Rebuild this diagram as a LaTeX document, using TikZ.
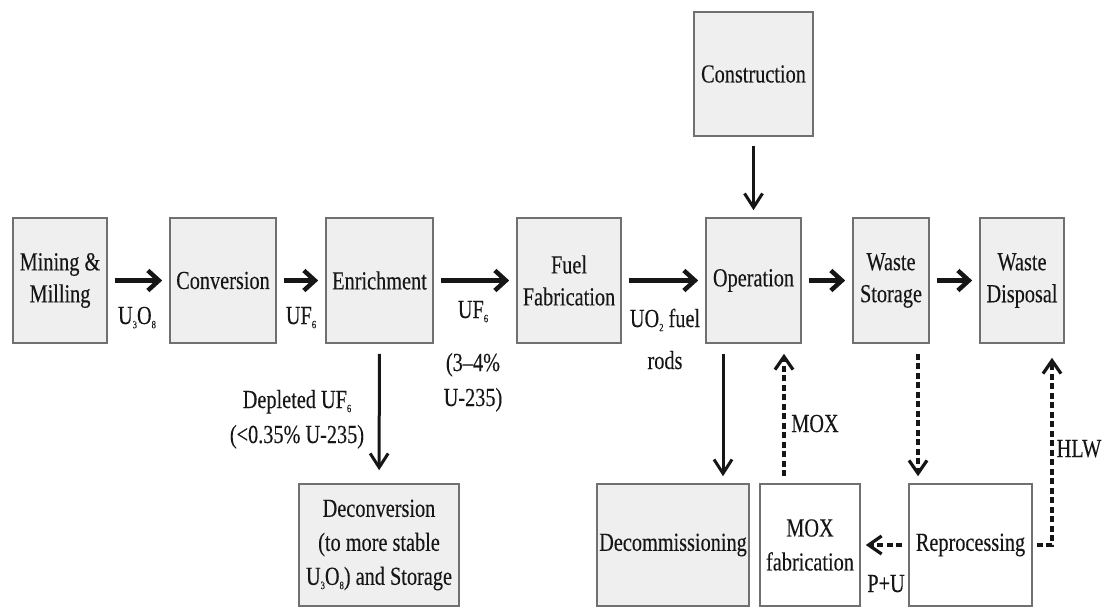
\documentclass[tikz,border=0pt]{standalone}
\usepackage{fontspec}
\setmainfont{Liberation Serif}[FakeStretch=0.78,FakeBold=0.2]
\usetikzlibrary{arrows.meta}
\definecolor{boxfill}{HTML}{EFEFEF}
\definecolor{boxline}{HTML}{707070}
\definecolor{ink}{HTML}{161616}
% small lowered index for chemical formulas
\newcommand{\chem}[1]{\raisebox{-0.35ex}{\fontsize{11}{11}\selectfont #1}}

\begin{document}
\begin{tikzpicture}[x=1pt,y=-1pt,
  stage/.style={draw=boxline, line width=1.6pt, fill=boxfill, text=ink,
    align=center, inner sep=0pt, font=\fontsize{26}{32}\selectfont},
  plainstage/.style={stage, fill=white},
  tag/.style={text=ink, align=center, inner sep=0pt,
    font=\fontsize{26}{34}\selectfont},
  flow/.style={draw=ink, line width=4.5pt,
    -{Straight Barb[length=11pt,width=20pt]}, shorten <=7pt, shorten >=7pt},
  link/.style={draw=ink, line width=3pt,
    -{Straight Barb[length=14pt,width=18pt]}},
  recycle/.style={draw=ink, line width=3.2pt, dash pattern=on 6pt off 3.5pt,
    -{Straight Barb[length=13pt,width=18pt]}},
]
\useasboundingbox (0,0) rectangle (1102,608);

% main fuel-cycle chain
\node[stage, minimum width=94pt,  minimum height=125pt] (mine) at (60,280.5)   {Mining \&\\Milling};
\node[stage, minimum width=106pt, minimum height=125pt] (conv) at (223,280.5)  {Conversion};
\node[stage, minimum width=107pt, minimum height=125pt] (enr)  at (379.5,280.5){Enrichment};
\node[stage, minimum width=104pt, minimum height=125pt] (fuel) at (569,280.5)  {Fuel\\Fabrication};
\node[stage, minimum width=95pt,  minimum height=125pt] (oper) at (753.5,280.5){Operation};
\node[stage, minimum width=76pt,  minimum height=125pt] (ws)   at (891,280.5)  {Waste\\Storage};
\node[stage, minimum width=84pt,  minimum height=125pt] (wd)   at (1022,280.5) {Waste\\Disposal};

% plant construction
\node[stage, minimum width=119pt, minimum height=124pt] (cons) at (753.5,74) {Construction};

% bottom row
\node[stage, minimum width=160pt, minimum height=122pt] (decv)  at (379,545)
  {Deconversion\\[2pt](to more stable\\[2pt]U\chem{3}O\chem{8}) and Storage};
\node[stage, minimum width=152pt, minimum height=122pt] (decom) at (673,545) {Decommissioning};
\node[plainstage, minimum width=100pt, minimum height=122pt] (moxf) at (810,545) {MOX\\[2pt]fabrication};
\node[plainstage, minimum width=123pt, minimum height=122pt] (repro) at (970.5,545) {Reprocessing};

% forward flows
\draw[flow] (mine) -- (conv);
\draw[flow] (conv) -- (enr);
\draw[flow] (enr) -- (fuel);
\draw[flow] (fuel) -- (oper);
\draw[flow] (oper) -- (ws);
\draw[flow] (ws) -- (wd);

% branches
\draw[link, shorten <=9pt, shorten >=7pt] (cons) -- (oper);
\draw[link, shorten <=10pt, shorten >=13pt] (enr) -- (decv);
\draw[link, shorten <=10pt, shorten >=7pt]
  ([xshift=-30.5pt]oper.south) -- ([xshift=-30.5pt]oper.south |- decom.north);

% recycling loop
\draw[recycle, shorten <=7pt, shorten >=10pt]
  ([xshift=-26pt]moxf.north) -- ([xshift=-26pt]moxf.north |- oper.south);
\draw[recycle, shorten <=10pt, shorten >=7pt]
  ([xshift=27pt]ws.south) -- ([xshift=27pt]ws.south |- repro.north);
\draw[recycle, shorten <=4pt, shorten >=14pt]
  (repro.east) -| ([xshift=30pt]wd.south);
\draw[recycle, shorten <=6pt, shorten >=5pt] (repro.west) -- (moxf.east);

% flow labels (base anchor sits on the last line)
\node[tag, anchor=base] (tU3O8) at (137,324) {U\chem{3}O\chem{8}};
\node[tag, anchor=base] (tUF6a) at (301,324) {UF\chem{6}};
\node[tag, anchor=base] (tUF6b) at (473,318) {UF\chem{6}};
\node[tag, anchor=base] (tenr)  at (473,406) {(3–4\%\\[1pt]U-235)};
\node[tag, anchor=base] (tUO2)  at (665,369) {UO\chem{2} fuel\\[8pt]rods};
\node[tag, anchor=base] (tdep)  at (297,443) {Depleted UF\chem{6}\\[1pt](<0.35\% U-235)};
\node[tag, anchor=base] (tmox)  at (815,432) {MOX};
\node[tag, anchor=base] (thlw)  at (1079,457) {HLW};
\node[tag, anchor=base] (tpu)   at (886,592) {P+U};
\end{tikzpicture}
\end{document}
